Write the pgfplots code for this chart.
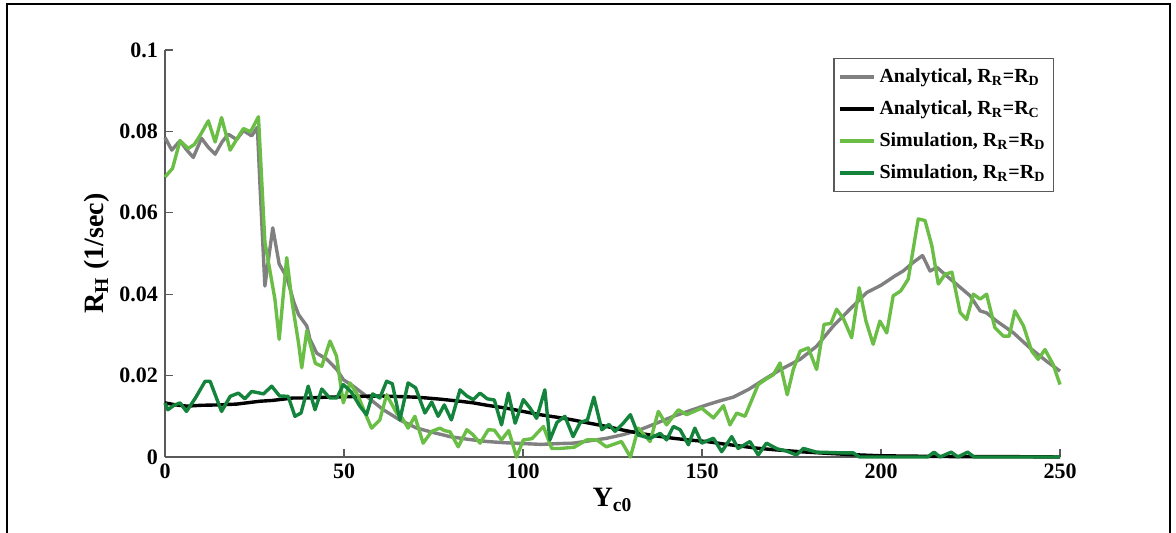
\documentclass[border=0pt]{standalone}
\usepackage{pgfplots}
\pgfplotsset{compat=1.18}
\usepackage{fontspec}
\setmainfont{Liberation Serif}
\definecolor{cgray}{RGB}{128,128,128}
\definecolor{lgreen}{RGB}{106,190,70}
\definecolor{dgreen}{RGB}{20,132,60}
\definecolor{axgray}{RGB}{90,90,90}
\begin{document}
\begin{tikzpicture}
\useasboundingbox (0pt,0pt) rectangle (588pt,-266.5pt);
\draw[black,line width=0.6pt] (3.5pt,-266.5pt) -- (3.5pt,-2pt) -- (585pt,-2pt) -- (585pt,-266.5pt);
\begin{axis}[
  at={(82.5pt,-228.5pt)}, anchor=south west,
  scale only axis, width=447.5pt, height=203.5pt,
  xmin=0, xmax=250, ymin=0, ymax=0.1,
  axis x line*=bottom, axis y line*=left,
  axis line style={axgray, line width=0.6pt, -},
  xtick={0,50,100,150,200,250},
  ytick={0,0.02,0.04,0.06,0.08,0.1},
  yticklabels={0,0.02,0.04,0.06,0.08,0.1},
  xticklabels={0,50,100,150,200,250},
  tick style={axgray, line width=0.6pt},
  major tick length=4pt,
  tick align=inside,
  ticklabel style={font=\fontsize{11}{12}\selectfont\bfseries},
  xlabel={Y\textsubscript{c0}},
  ylabel={R\textsubscript{H} (1/sec)},
  label style={font=\fontsize{14}{16}\selectfont\bfseries},
  xlabel style={yshift=2pt},
  ylabel style={yshift=-2pt},
  legend cell align=left,
  legend style={at={(rel axis cs:0.9933,0.980)}, anchor=north east,
    draw=axgray, line width=0.6pt, font=\fontsize{10}{12}\selectfont\bfseries,
    row sep=3.5pt, inner xsep=2pt, inner ysep=3pt},
  legend image code/.code={\draw[#1] (0cm,0cm) -- (0.6cm,0cm);},
  every axis plot/.append style={line width=1.7pt, line join=round},
  clip=false,
]
\addplot[cgray] coordinates {
(0,0.0785)(1.9,0.0754)(4.2,0.0777)(6,0.0755)(7.9,0.0736)(10.2,0.0783)(12,0.0762)(14,0.0744)(16,0.0775)(17.7,0.0793)(20,0.078)(21.9,0.0802)(24.2,0.0789)(25.8,0.0810)(26.6,0.0655)(27.9,0.042)(30.1,0.0563)(31.9,0.0474)(34,0.0442)(36,0.038)(37.3,0.035)(39.6,0.0322)(40.5,0.0289)(42.4,0.0255)(45.2,0.024)(48,0.0215)(49.8,0.019)(52.6,0.0174)(56.3,0.0149)(61,0.0116)(65.6,0.0091)(70.3,0.0071)(75,0.0060)(79.6,0.0050)(85,0.0043)(90,0.0038)(95,0.0035)(100,0.0033)(105,0.0031)(110,0.0033)(114,0.0034)(118,0.0039)(123.4,0.0046)(128,0.0055)(132.7,0.0067)(137,0.0082)(142,0.01)(146,0.0112)(151.3,0.0128)(155,0.0138)(158.7,0.0147)(163,0.0166)(168,0.0194)(172,0.0215)(177.4,0.024)(182,0.0272)(186.7,0.0322)(191.3,0.0363)(196,0.0404)(200,0.0422)(203.9,0.0445)(206.2,0.0457)(209,0.0478)(211.6,0.0495)(213.7,0.0457)(215.6,0.0466)(219,0.0440)(222.1,0.0417)(224.9,0.0396)(227.7,0.0359)(229.5,0.0354)(232.3,0.0334)(237,0.0305)(241.6,0.0268)(246.3,0.0235)(250,0.0211)
};
\addlegendentry{Analytical, R\textsubscript{R}=R\textsubscript{D}}
\addplot[black] coordinates {
(0,0.0133)(3,0.0128)(6,0.0125)(10,0.0127)(15,0.0128)(20,0.013)(26.5,0.0137)(30,0.0139)(35.8,0.0145)(40,0.0145)(45,0.0147)(50,0.0148)(54.5,0.0149)(60,0.015)(63.8,0.0149)(70,0.0147)(73.1,0.0145)(77,0.0142)(82.4,0.0137)(86.1,0.0133)(90,0.0127)(95.4,0.012)(100,0.0112)(104.7,0.0104)(110,0.0097)(114,0.0091)(118,0.0084)(123.4,0.0075)(128,0.0066)(132.7,0.0058)(137,0.0052)(142,0.0046)(146,0.0042)(151.3,0.0038)(156,0.0032)(160.6,0.0027)(165,0.0022)(170,0.0018)(177.4,0.0013)(185,0.0009)(191.3,0.0006)(200,0.0003)(210,0.0002)(220,0.0001)(235,0.0001)(250,0.0)
};
\addlegendentry{Analytical, R\textsubscript{R}=R\textsubscript{C}}
\addplot[lgreen] coordinates {
(0,0.0688)(2.1,0.0709)(4.2,0.0777)(6.5,0.0758)(8.2,0.0768)(9.8,0.079)(12.1,0.0826)(14,0.0774)(15.8,0.0834)(18.2,0.0754)(20,0.0780)(21.9,0.0807)(23.9,0.0799)(26.1,0.0836)(27.9,0.0528)(30.7,0.0388)(31.9,0.0289)(34,0.049)(35.5,0.038)(37.3,0.028)(38.2,0.0219)(39.6,0.031)(42,0.023)(43.8,0.0223)(46.1,0.0285)(47.9,0.0248)(49.8,0.0133)(51.7,0.0182)(54,0.0149)(55.8,0.011)(57.7,0.0071)(60,0.0091)(61.9,0.0153)(64.7,0.0108)(66.3,0.0095)(67.9,0.0071)(69.8,0.01)(72.1,0.0034)(74.5,0.0063)(76.8,0.0071)(78,0.0065)(79.6,0.0062)(81.9,0.0025)(84.3,0.0067)(86,0.0055)(88,0.0034)(90.3,0.0067)(92,0.0066)(94,0.0042)(96,0.0065)(98.2,0.0)(100.1,0.0042)(102.5,0.0045)(105.7,0.0075)(108,0.0021)(110.4,0.0021)(114.3,0.0024)(117.8,0.0042)(120.6,0.0042)(123.3,0.0025)(127.5,0.0038)(130,0.0)(132.2,0.0071)(135.5,0.0038)(137.8,0.0112)(140.1,0.0079)(143.4,0.0116)(145.7,0.0104)(149.9,0.0120)(153.2,0.0096)(156,0.0126)(157.8,0.0079)(159.7,0.0108)(162,0.01)(165.7,0.0178)(168,0.0192)(169.9,0.0202)(171.8,0.0231)(173.8,0.0153)(175.5,0.0215)(177.4,0.026)(179.7,0.0268)(182,0.0215)(184.1,0.0326)(186,0.0328)(187.6,0.0363)(189.5,0.034)(191.8,0.0293)(193.9,0.0416)(195.8,0.0334)(197.8,0.0277)(199.7,0.0334)(201.6,0.0305)(203.4,0.0396)(205.5,0.0408)(207.6,0.0437)(209,0.0511)(210.4,0.0585)(212.3,0.0581)(214.2,0.0519)(216,0.0425)(217.9,0.0449)(219.8,0.0454)(222.1,0.0355)(223.9,0.0338)(225.8,0.04)(227.7,0.0388)(229.5,0.04)(231.8,0.0318)(234.2,0.0297)(235.8,0.0297)(237.4,0.0359)(239.8,0.0322)(242.1,0.026)(243.9,0.024)(245.8,0.0264)(248.1,0.0227)(250,0.0178)
};
\addlegendentry{Simulation, R\textsubscript{R}=R\textsubscript{D}}
\addplot[dgreen] coordinates {
(0,0.0133)(0.8,0.0116)(2.5,0.0127)(4.2,0.0133)(6,0.0112)(8.5,0.0145)(11.2,0.0186)(12.6,0.0186)(15.8,0.0112)(18.2,0.0149)(20.5,0.0157)(22.3,0.0143)(24.2,0.0161)(26,0.0158)(27.5,0.0155)(29.8,0.0174)(32,0.0150)(34.4,0.0149)(36.3,0.0100)(38,0.0108)(40,0.0174)(41.9,0.0116)(43.8,0.0167)(46,0.0145)(48,0.0145)(49.8,0.0178)(52,0.0160)(54.5,0.0124)(56.3,0.0104)(58,0.0155)(60,0.0145)(61.9,0.0186)(63.5,0.0180)(65.6,0.0091)(67.9,0.0182)(70,0.0170)(72.6,0.0108)(74.5,0.0135)(76.3,0.0100)(78,0.0128)(80,0.0091)(82.4,0.0165)(84.3,0.0150)(86.1,0.0141)(88,0.0157)(90,0.0143)(92,0.0140)(94,0.0079)(95.9,0.0157)(97.8,0.0083)(100.1,0.0141)(102,0.0120)(103.8,0.0095)(106.1,0.0165)(107.5,0.0042)(109.5,0.0085)(111.7,0.01)(114,0.005)(116,0.0085)(118,0.0091)(119.8,0.0147)(122,0.0067)(124,0.0080)(125.7,0.0063)(128,0.0083)(130,0.0104)(132.2,0.0054)(135.5,0.0046)(138.3,0.0058)(140.1,0.0042)(142,0.0075)(143.9,0.0067)(146.2,0.003)(148,0.0071)(149.9,0.0034)(151.5,0.0040)(153.2,0.0046)(155.5,0.0013)(158.3,0.005)(160.1,0.0021)(163.4,0.0038)(165.7,0.0005)(168,0.0034)(171,0.0020)(173.5,0.0015)(176.4,0.0005)(178.3,0.0021)(182,0.0012)(186,0.0011)(190,0.0010)(192.3,0.0010)(194,0.0)(200,0.0)(210,0.0)(213,0.0)(214.8,0.0012)(216.5,0.0)(219.6,0.0012)(221.5,0.0)(224.2,0.0012)(226,0.0)(235,0.0)(250,0.0)
};
\addlegendentry{Simulation, R\textsubscript{R}=R\textsubscript{D}}
\end{axis}
\end{tikzpicture}
\end{document}
